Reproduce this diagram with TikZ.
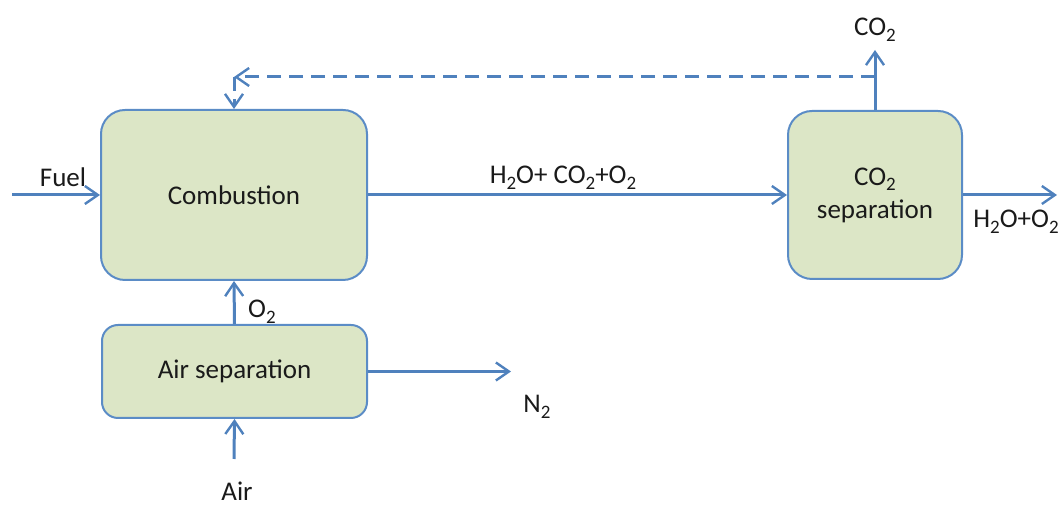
\documentclass[tikz,border=0pt]{standalone}
\usepackage{fontspec}
\setmainfont{Carlito}
\usetikzlibrary{arrows.meta}
\definecolor{lineblue}{HTML}{4F81BD}
\definecolor{boxfill}{HTML}{DCE6C6}
\definecolor{boxline}{HTML}{5B8CC6}
\definecolor{txt}{HTML}{1A1A1A}
\newcommand{\mysub}[1]{\raisebox{-0.45ex}{\fontsize{9.5}{9.5}\selectfont #1}}
\begin{document}
\begin{tikzpicture}[x=0.5pt,y=-0.5pt,
  every node/.style={text=txt,font=\fontsize{13.5}{16.5}\selectfont},
  unit/.style={draw=boxline,line width=1pt,fill=boxfill,rounded corners=12pt,inner sep=0pt,align=center},
  flow/.style={draw=lineblue,line width=1.5pt,-{Straight Barb[length=6.5pt,width=9pt,line width=1.2pt]}},
  dflow/.style={flow,dash pattern=on 7pt off 4pt},
  lbl/.style={inner sep=0pt}]
\useasboundingbox (0,0) rectangle (1061,506);
% units
\node[unit,minimum width=133pt,minimum height=85pt] (comb) at (234,195) {Combustion};
\node[unit,minimum width=87pt,minimum height=84pt] (co2sep) at (875,195) {CO\mysub{2}\\separation};
\node[unit,rounded corners=8pt,minimum width=132.5pt,minimum height=46.5pt] (air) at (234.5,371.5) {Air separation};
% free ends
\coordinate (fuelin) at (12,195);
\coordinate (out) at (1057,195);
\coordinate (co2out) at (875,50);
\coordinate (tap) at (875,77);
\coordinate (corner) at (234,77);
\coordinate (n2end) at (511,371.5);
\coordinate (airin) at (234,459);
% connectors
\draw[flow] (fuelin) -- (comb.west);
\draw[flow] (comb.east) -- (co2sep.west);
\draw[flow] (co2sep.east) -- (out);
\draw[flow] (co2sep.north) -- (co2out);
\draw[dflow] (tap) -- (corner);
\draw[dflow] (corner) -- (comb.north);
\draw[flow] (air.north) -- (comb.south);
\draw[flow] (air.east) -- (n2end);
\draw[flow] (airin) -- (air.south);
% labels
\node[lbl] (lfuel) at (63,177) {Fuel};
\node[lbl] (lmain) at (563,178) {H\mysub{2}O+ CO\mysub{2}+O\mysub{2}};
\node[lbl] (lout) at (1016,222) {H\mysub{2}O+O\mysub{2}};
\node[lbl] (lco2) at (875,30) {CO\mysub{2}};
\node[lbl] (lo2) at (262,312) {O\mysub{2}};
\node[lbl] (ln2) at (537,407) {N\mysub{2}};
\node[lbl] (lair) at (237,491) {Air};
\end{tikzpicture}
\end{document}
